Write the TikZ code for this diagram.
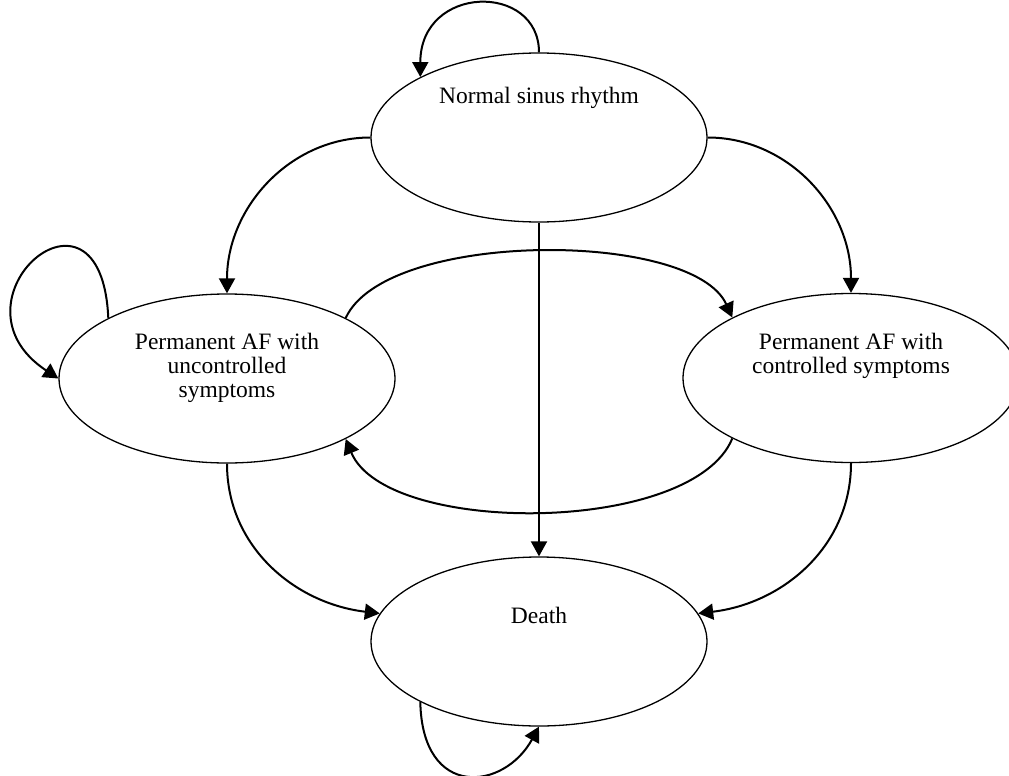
\documentclass[tikz,border=0pt]{standalone}
\usepackage{fontspec}
\setmainfont{Liberation Serif}
\usetikzlibrary{shapes.geometric}
\usetikzlibrary{positioning}
\usetikzlibrary{arrows.meta}
\tikzset{>={Triangle[length=15pt,width=16pt]}}
\tikzset{state/.style={draw, ellipse, line width=1.3pt, inner sep=0pt, minimum width=336pt, minimum height=169pt}}
\tikzset{lbl/.style={inner sep=0pt, align=center, font=\fontsize{23.5}{24}\selectfont}}
\tikzset{trans/.style={->, line width=2pt}}

\begin{document}
\begin{tikzpicture}[x=1pt, y=-1pt]
    \useasboundingbox (0,0) rectangle (1009,776);
    \node[state] (nsr) at (539,137.5) {};
    \node[state] (uc) at (227,378.5) {};
    \node[state] (cs) at (851,378) {};
    \node[state] (death) at (539,641.5) {};
    \node[lbl, below=35pt of nsr.north] (nsrtext) {Normal sinus rhythm};
    \node[lbl, below=40pt of uc.north] (uctext) {Permanent AF with\\uncontrolled\\symptoms};
    \node[lbl, below=40pt of cs.north] (cstext) {Permanent AF with\\controlled symptoms};
    \node[lbl, below=51pt of death.north] (deathtext) {Death};
    \draw[trans] (nsr.north) .. controls +(0,-70) and +(0,-93) .. (nsr.153);
    \draw[trans] (nsr.west) .. controls +(-80,0) and +(0,-86) .. (uc.north);
    \draw[trans] (nsr.east) .. controls +(80,0) and +(0,-86) .. (cs.north);
    \draw[trans] (nsr.south) -- (death.north);
    \draw[trans] (uc.153) .. controls +(-7,-158) and +(-118,-78) .. (uc.west);
    \draw[trans] (uc.27) .. controls +(40,-88) and +(-40,-88) .. (cs.153);
    \draw[trans] (cs.207) .. controls +(-40,97) and +(40,97) .. (uc.333);
    \draw[trans] (uc.south) .. controls +(0,83) and +(-85,-10) .. (death.170);
    \draw[trans] (cs.south) .. controls +(0,83) and +(85,-10) .. (death.10);
    \draw[trans] (death.207) .. controls +(2,98) and +(-35,64) .. (death.south);
\end{tikzpicture}
\end{document}
